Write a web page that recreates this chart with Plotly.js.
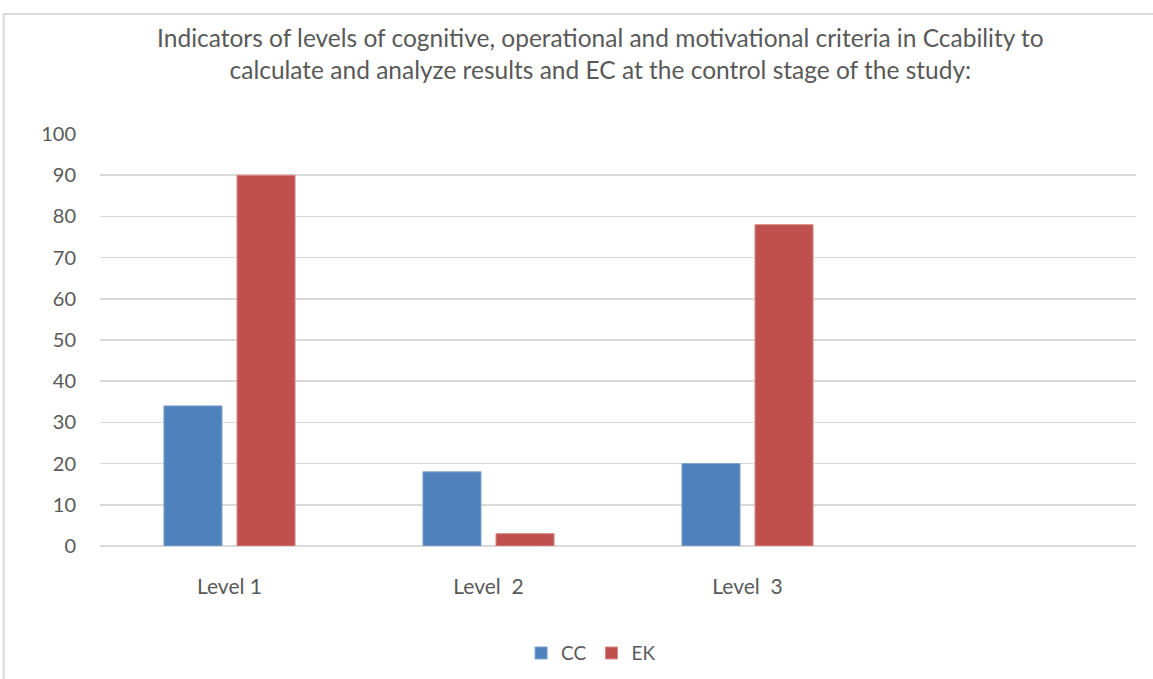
<!DOCTYPE html>
<html>
<head>
<meta charset="utf-8">
<script src="https://cdn.plot.ly/plotly-3.0.1.min.js"></script>
<style>
html,body{margin:0;padding:0;background:#fff;}
#chart{width:1153px;height:679px;}
</style>
</head>
<body>
<div id="chart"></div>
<script>
var categories = ["Level 1", "Level  2", "Level  3"];
var seriesNames = ["CC", "EK"];
var ccValues = [34, 18, 20];
var ekValues = [90, 3, 78];
var yTicks = [0, 10, 20, 30, 40, 50, 60, 70, 80, 90, 100];

var fontFam = "Lato, 'Open Sans', sans-serif";
var gray = "#595959";

var traces = [
  {type: "bar", name: seriesNames[0], x: categories, y: ccValues,
   marker: {color: "#4F81BD", line: {color: "#7FA3D0", width: 1}}},
  {type: "bar", name: seriesNames[1], x: categories, y: ekValues,
   marker: {color: "#C0504D", line: {color: "#D88A88", width: 1}}}
];

var layout = {
  width: 1153, height: 679,
  paper_bgcolor: "#ffffff", plot_bgcolor: "#ffffff",
  margin: {l: 100, r: 17, t: 134, b: 133, autoexpand: false},
  title: {
    text: "Indicators of levels of cognitive, operational and motivational criteria in Ccability to<br>calculate and analyze results and EC at the control stage of the study:",
    font: {family: fontFam, size: 24.5, color: gray},
    x: 0.483, xanchor: "center", xref: "paper",
    y: 0.931, yanchor: "middle"
  },
  barmode: "group",
  bargap: 0.436,
  bargroupgap: 0.205,
  xaxis: {
    type: "category",
    range: [-0.5, 3.5],
    showgrid: false, zeroline: false, showline: false,
    ticks: "", ticklabelstandoff: 26,
    tickfont: {family: fontFam, size: 21, color: gray},
    fixedrange: true
  },
  yaxis: {
    range: [0, 100],
    tickvals: yTicks,
    showgrid: true, gridcolor: "#D9D9D9", gridwidth: 1.5,
    zeroline: true, zerolinecolor: "#D9D9D9", zerolinewidth: 1.5,
    showline: false, ticks: "",
    ticklabelstandoff: 23,
    tickfont: {family: fontFam, size: 20, color: gray},
    fixedrange: true
  },
  showlegend: true,
  legend: {
    orientation: "h",
    x: 0.474, xanchor: "center",
    y: -0.26, yanchor: "middle",
    font: {family: fontFam, size: 19, color: gray},
    itemwidth: 30,
    traceorder: "normal"
  },
  shapes: [
    {type: "rect", xref: "paper", yref: "paper",
     x0: -0.093, x1: 1.2, y0: -0.7, y1: 1.291,
     line: {color: "#D9D9D9", width: 2}, fillcolor: "rgba(0,0,0,0)", layer: "below"}
  ]
};

Plotly.newPlot("chart", traces, layout, {displayModeBar: false, staticPlot: true});
</script>
</body>
</html>
